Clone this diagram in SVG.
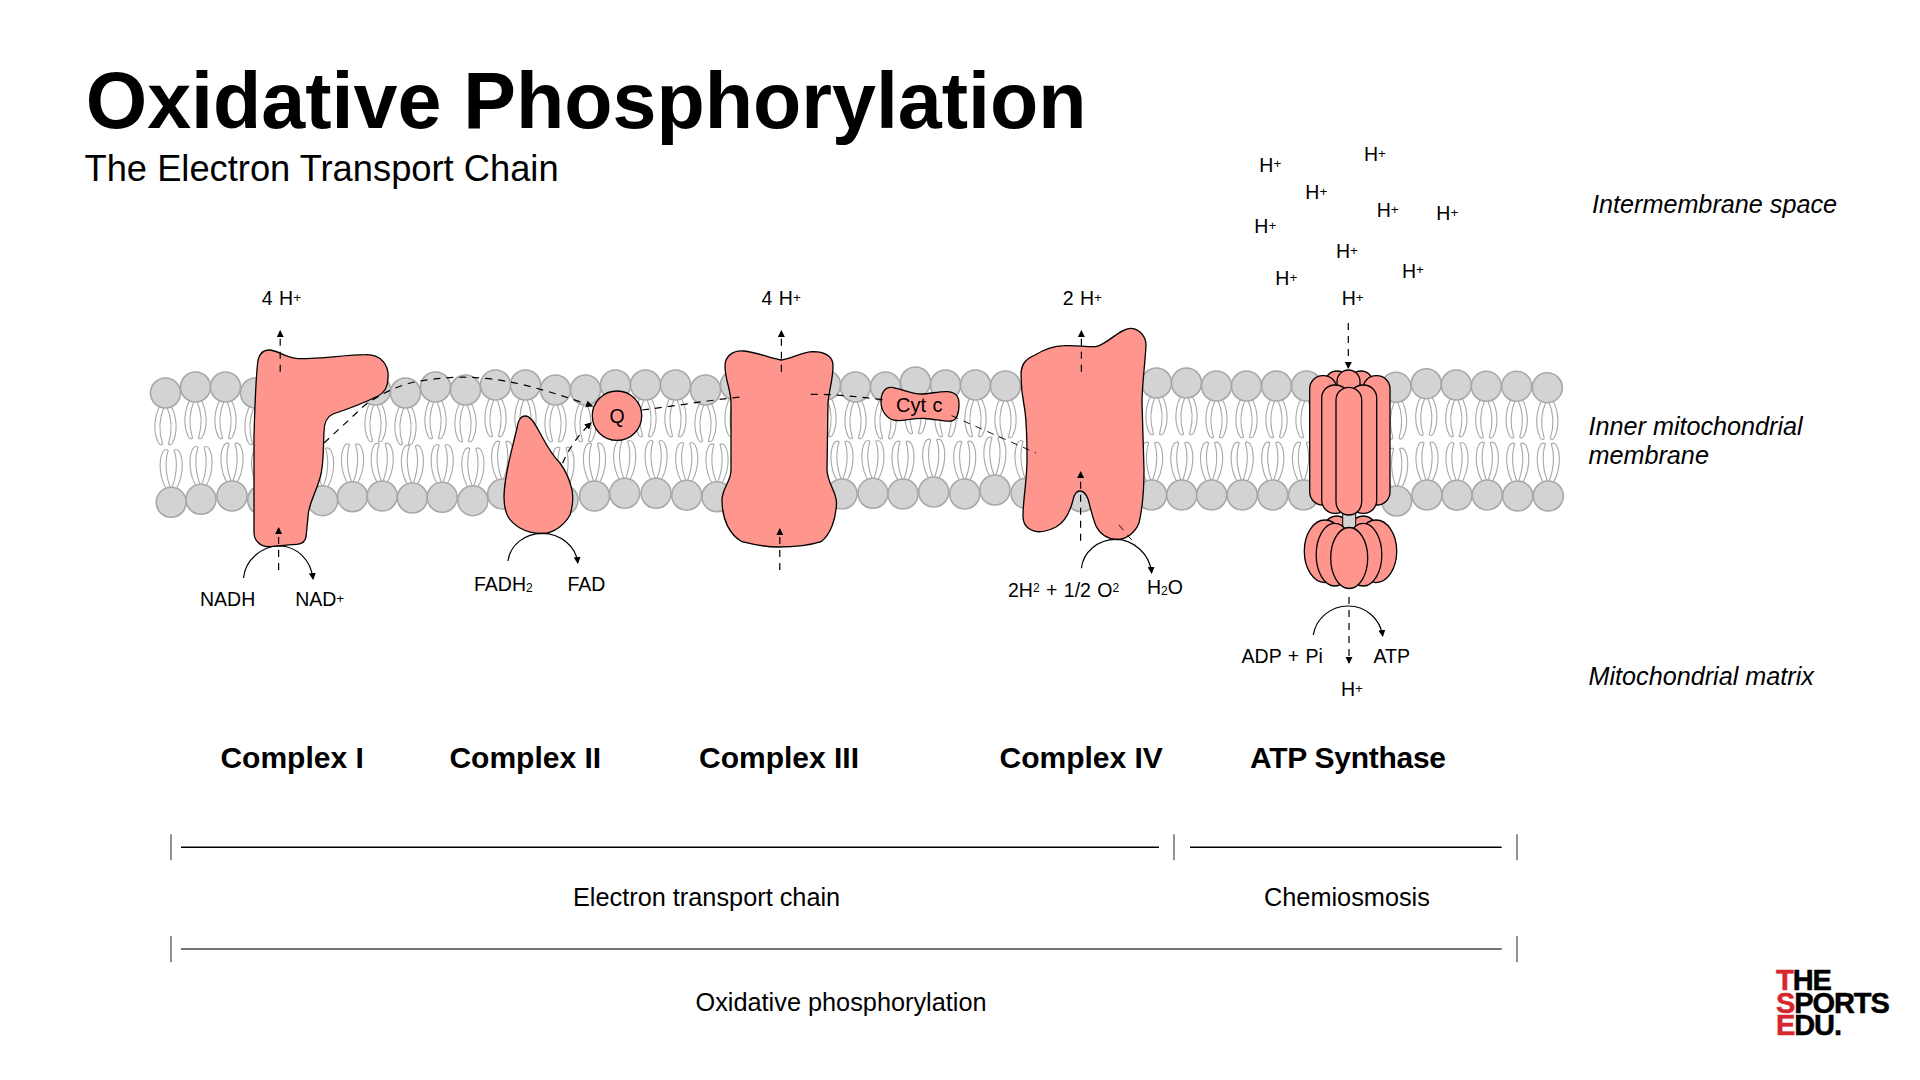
<svg xmlns="http://www.w3.org/2000/svg" width="1920" height="1080" viewBox="0 0 1920 1080">
<style>
text{font-family:"Liberation Sans",Arial,sans-serif;fill:#000}
.title{font-size:79px;font-weight:700}
.sub{font-size:36.3px}
.cx{font-size:30px;font-weight:700}
.lb{font-size:25.3px}
.it{font-size:25.2px;font-style:italic}
.s{font-size:19.5px;word-spacing:1px}
.m{font-size:12px}
.p{font-size:13.5px}
.logo{font-size:29px;font-weight:700;letter-spacing:-1.1px;stroke:#000;stroke-width:.5}
.red{fill:#d7262e;stroke:#d7262e}
.head{fill:#d3d3d3;stroke:#a8a8a8;stroke-width:1.6}
.tail{fill:#fff;stroke:#a8a8a8;stroke-width:1.1}
.pr{fill:#ff968e;stroke:#000;stroke-width:1.3}
.d{fill:none;stroke:#000;stroke-width:1.2;stroke-dasharray:7 6}
.c{fill:none;stroke:#000;stroke-width:1.2}
.r{stroke:#000;stroke-width:1.5}
.t{stroke:#777;stroke-width:1.6}
</style>
<defs>
<marker id="a" markerWidth="8" markerHeight="8" refX="6" refY="3.5" orient="auto" markerUnits="userSpaceOnUse"><path d="M0,0 L7,3.5 L0,7 Z" fill="#000"/></marker>
<g id="T">
<path class="tail" d="M-5,12 C-11,22 -13,38 -7,50 Q-5,53 -3,51 C-7,38 -6,24 -1,13 Z"/>
<path class="tail" d="M5,12 C11,22 13,38 7,50 Q5,53 3,51 C7,38 6,24 1,13 Z"/>
<circle class="head" r="15"/>
</g>
<g id="B">
<path class="tail" d="M-4,-12 C-12,-24 -13,-42 -8,-51 Q-5,-54 -3,-52 C-7,-40 -5,-24 0,-13 Z"/>
<path class="tail" d="M4,-12 C12,-24 13,-42 8,-51 Q5,-54 3,-52 C7,-40 5,-24 0,-13 Z"/>
<circle class="head" r="15"/>
</g>
</defs>
<rect width="1920" height="1080" fill="#fff"/>

<g id="membrane">
<use href="#T" x="165.5" y="393"/><use href="#T" x="195.5" y="387"/><use href="#T" x="225.5" y="387"/><use href="#T" x="255.5" y="393"/><use href="#T" x="375.5" y="390"/><use href="#T" x="405.5" y="393"/><use href="#T" x="435.5" y="387"/><use href="#T" x="465.5" y="390"/><use href="#T" x="495.5" y="385"/><use href="#T" x="525.5" y="385"/><use href="#T" x="555.5" y="390"/><use href="#T" x="585.5" y="390"/><use href="#T" x="615.5" y="385"/><use href="#T" x="645.5" y="385"/><use href="#T" x="675.5" y="385"/><use href="#T" x="705.5" y="390"/><use href="#T" x="735.5" y="385"/><use href="#T" x="825.5" y="385"/><use href="#T" x="855.5" y="387"/><use href="#T" x="885.5" y="387"/><use href="#T" x="915.5" y="382"/><use href="#T" x="945.5" y="385"/><use href="#T" x="975.5" y="385"/><use href="#T" x="1005.5" y="386"/><use href="#T" x="1156.5" y="383"/><use href="#T" x="1186.5" y="383"/><use href="#T" x="1216.5" y="386"/><use href="#T" x="1246.5" y="386"/><use href="#T" x="1276.5" y="386"/><use href="#T" x="1306.5" y="386"/><use href="#T" x="1396" y="387.3"/><use href="#T" x="1426.3" y="383.7"/><use href="#T" x="1456.3" y="385"/><use href="#T" x="1486.3" y="386.3"/><use href="#T" x="1516.7" y="386.3"/><use href="#T" x="1547.3" y="387.7"/>
<use href="#B" x="171.2" y="502.3"/><use href="#B" x="201" y="499.3"/><use href="#B" x="232" y="496"/><use href="#B" x="262.7" y="500"/><use href="#B" x="322.6" y="500.7"/><use href="#B" x="352.5" y="496.7"/><use href="#B" x="382.2" y="496"/><use href="#B" x="412.4" y="498"/><use href="#B" x="442.2" y="497.3"/><use href="#B" x="472.9" y="500.7"/><use href="#B" x="502.7" y="494"/><use href="#B" x="533" y="500"/><use href="#B" x="563" y="500"/><use href="#B" x="594.5" y="496"/><use href="#B" x="624.7" y="493.3"/><use href="#B" x="656.1" y="493.3"/><use href="#B" x="686.7" y="495.3"/><use href="#B" x="717" y="496.7"/><use href="#B" x="842" y="494"/><use href="#B" x="872.9" y="493.3"/><use href="#B" x="903" y="494"/><use href="#B" x="933.7" y="492"/><use href="#B" x="964.7" y="494"/><use href="#B" x="994.9" y="490"/><use href="#B" x="1026" y="493.3"/><use href="#B" x="1081.4" y="496.7"/><use href="#B" x="1151.6" y="495"/><use href="#B" x="1181.8" y="495"/><use href="#B" x="1211.6" y="495"/><use href="#B" x="1242.2" y="495"/><use href="#B" x="1272.8" y="495"/><use href="#B" x="1303.5" y="495"/><use href="#B" x="1396.7" y="501"/><use href="#B" x="1427" y="495"/><use href="#B" x="1457" y="495.3"/><use href="#B" x="1487.3" y="495"/><use href="#B" x="1517.7" y="496"/><use href="#B" x="1548.3" y="496"/>
</g>

<g id="complex-1"><path class="pr" d="M254,437 C255,400 256,375 258,360 C260,352 265,350 269,350 C278,350 285,358 298,358.7 C320,359 345,355 365,354.7 C382,354 389,366 388,378 C388,388 384,393 378,396 C360,405 345,410 333,414 C326,417 324,424 324,432 C323,450 324,465 320,478 C315,495 308,505 308,517 L306,537 C305,542 301,544 297,544.3 C285,545 278,546 269,546.7 C260,547 254,540 254,533 Z"/></g>
<g id="complex-2"><path class="pr" d="M525,416 C520,416 518,421 517,428 C512,450 504,475 504,497 C504,515 510,522 520,528 C527,532 535,533.5 542,533.5 C555,533 565,524 570,515 C573,505 574,495 571,486 C568,475 565,470 560,463 C550,453 545,442 540,433 C535,424 531,416 525,416 Z"/></g>
<g id="q"><circle class="pr" cx="617" cy="415.7" r="24.7"/><text class="s" x="617" y="423" text-anchor="middle">Q</text></g>
<g id="complex-3"><path class="pr" d="M725,366 C725,356 733,350 744,351 C756,352 770,358 781,360 C790,359 802,352 813,351.7 C826,352 833,356 833,366 C833,380 829,390 828,403 L827,470 C828,485 836,490 836.5,503 C836,520 830,535 821,541.7 C808,546 792,547 778,547 C765,547 755,545 742,541.7 C730,535 722,520 722,500 C722,488 731,482 731,470 L731,403 C731,390 725,380 725,366 Z"/></g>
<g id="cyt-c"><path class="pr" d="M881,402 C881,393 885,387 891,387.3 C900,388 910,394 921,394 C930,394 940,391 948,391.7 C956,393 959,396 959,404 C959,412 958,419 952,421 C945,422 935,419 925,418.5 C912,418 905,421 897,420.5 C888,420 881,412 881,402 Z"/><text class="s" x="896" y="411.5" style="font-size:20px">Cyt c</text></g>
<g id="complex-4"><path class="pr" d="M1021,375 C1021,362 1028,358 1035,355 C1045,349 1055,346 1064,345.7 C1075,345 1085,347 1096,346.7 C1108,344 1120,328 1131,328.3 C1141,329 1146,338 1146,345 C1145,365 1142,385 1142,403 L1144,470 C1144,490 1142,510 1139,523 C1135,533 1126,539.5 1117,539.5 C1107,539 1100,534 1096,526 C1092,516 1090,506 1088,499 C1086,494 1083,491 1080,491 C1076,491 1074,495 1073,500 C1070,512 1065,522 1056,527 C1048,531 1042,532 1037,531.7 C1028,530 1023,525 1023,516 C1023,500 1027,480 1027,460 C1027,440 1027,420 1024,405 C1022,395 1021,385 1021,375 Z"/></g>
<g id="atp-synthase">
<rect class="pr" x="1325" y="371" width="24" height="60" rx="12"/><rect class="pr" x="1349" y="371" width="24" height="60" rx="12"/><rect class="pr" x="1337" y="370" width="23" height="60" rx="11.5"/>
<rect class="pr" x="1309.7" y="375.7" width="27" height="129.3" rx="13"/><rect class="pr" x="1363" y="375.7" width="27" height="129.3" rx="13"/>
<rect class="pr" x="1321.7" y="385" width="27" height="128.3" rx="13"/><rect class="pr" x="1349.7" y="385" width="27" height="128.3" rx="13"/>
<ellipse class="pr" cx="1336.7" cy="540" rx="17" ry="24"/><ellipse class="pr" cx="1363.3" cy="540" rx="17" ry="24"/>
<rect x="1342.7" y="512" width="13" height="18" fill="#d3d3d3" stroke="#000" stroke-width="1"/>
<rect class="pr" x="1336" y="387.3" width="25.7" height="127.7" rx="12.8"/>
<ellipse class="pr" cx="1325" cy="551.3" rx="20.7" ry="31.3"/><ellipse class="pr" cx="1376" cy="551.3" rx="20.7" ry="31.3"/>
<ellipse class="pr" cx="1334.7" cy="554.7" rx="18.5" ry="31.3"/><ellipse class="pr" cx="1363.3" cy="554.7" rx="18.5" ry="31.3"/>
<ellipse class="pr" cx="1349.2" cy="558" rx="18.5" ry="30.5"/>
</g>

<g id="connectors">
<path class="d" d="M280.2,371.7 V331" marker-end="url(#a)"/>
<path class="d" d="M278.6,570 V528" marker-end="url(#a)"/>
<path class="d" d="M781.4,371.7 V331" marker-end="url(#a)"/>
<path class="d" d="M779.8,570 V529" marker-end="url(#a)"/>
<path class="d" d="M1081.4,371.7 V331" marker-end="url(#a)"/>
<path class="d" d="M1080.6,540.7 V472" marker-end="url(#a)"/>
<path class="d" d="M1348.3,323 V368" marker-end="url(#a)"/>
<path class="d" d="M1349,597 V663" marker-end="url(#a)"/>
<path class="d" d="M324,443 L365,405 C375,398 395,385 420,381 C450,376 480,375 520,384 C545,390 570,398 592,406" marker-end="url(#a)"/>
<path class="d" d="M562.6,463.3 C568,450 578,435 591,423" marker-end="url(#a)"/>
<path class="d" d="M642.2,410 C675,406 710,400 744,396.7"/>
<path class="d" d="M810.8,394.3 C835,394 860,397 886,400"/>
<path class="d" style="stroke-width:.9" d="M951.6,415.7 L1036,453"/>
<path class="d" style="stroke-width:.9" d="M1119,525 L1136,545"/>
<path class="c" d="M243.5,578 C245,560 262,546 279,546 C297,546 311,560 313,579" marker-end="url(#a)"/>
<path class="c" d="M508,561 C510,545 525,533.3 542.2,533.3 C560,533.3 576,546 577.8,563" marker-end="url(#a)"/>
<path class="c" d="M1081.4,568.3 C1083,552 1098,539.3 1116,539.3 C1133,539.3 1150,554 1151.6,573" marker-end="url(#a)"/>
<path class="c" d="M1313.3,635 C1316,618 1331,606 1348.3,606 C1365,606 1380,618 1382.7,636" marker-end="url(#a)"/>
</g>

<g id="labels">
<text class="title" x="85.7" y="128">Oxidative Phosphorylation</text>
<text class="sub" x="84.5" y="181">The Electron Transport Chain</text>
<text class="s" x="261.8" y="305">4 H<tspan class="p" dy="-3.5">+</tspan></text>
<text class="s" x="761.6" y="305">4 H<tspan class="p" dy="-3.5">+</tspan></text>
<text class="s" x="1062.7" y="305">2 H<tspan class="p" dy="-3.5">+</tspan></text>
<text class="s" x="1259.3" y="171.7">H<tspan class="p" dy="-3.5">+</tspan></text>
<text class="s" x="1364" y="161">H<tspan class="p" dy="-3.5">+</tspan></text>
<text class="s" x="1305.3" y="199.3">H<tspan class="p" dy="-3.5">+</tspan></text>
<text class="s" x="1376.7" y="217.3">H<tspan class="p" dy="-3.5">+</tspan></text>
<text class="s" x="1436.3" y="220">H<tspan class="p" dy="-3.5">+</tspan></text>
<text class="s" x="1254.3" y="233.3">H<tspan class="p" dy="-3.5">+</tspan></text>
<text class="s" x="1336" y="258.3">H<tspan class="p" dy="-3.5">+</tspan></text>
<text class="s" x="1402" y="277.7">H<tspan class="p" dy="-3.5">+</tspan></text>
<text class="s" x="1275.3" y="285">H<tspan class="p" dy="-3.5">+</tspan></text>
<text class="s" x="1341.7" y="305">H<tspan class="p" dy="-3.5">+</tspan></text>
<text class="s" x="1341" y="696">H<tspan class="p" dy="-3.5">+</tspan></text>
<text class="s" x="200" y="606">NADH</text>
<text class="s" x="295.2" y="606">NAD<tspan class="p" dy="-3.5">+</tspan></text>
<text class="s" x="474" y="590.7">FADH<tspan class="m" dy="1">2</tspan></text>
<text class="s" x="567.5" y="590.7">FAD</text>
<text class="s" x="1008" y="596.7">2H<tspan class="m" dy="-5">2</tspan><tspan dy="5"> + 1/2 O</tspan><tspan class="m" dy="-5">2</tspan></text>
<text class="s" x="1147" y="594.3">H<tspan class="m" dy="1">2</tspan><tspan dy="-1">O</tspan></text>
<text class="s" x="1241.6" y="662.7">ADP + Pi</text>
<text class="s" x="1373.5" y="662.7">ATP</text>
<text class="cx" x="220.4" y="768">Complex I</text>
<text class="cx" x="449.4" y="768">Complex II</text>
<text class="cx" x="699" y="768">Complex III</text>
<text class="cx" x="999.5" y="768">Complex IV</text>
<text class="cx" x="1250" y="768" textLength="196">ATP Synthase</text>
<text class="lb" x="573" y="906">Electron transport chain</text>
<text class="lb" x="1264" y="906">Chemiosmosis</text>
<text class="lb" x="695.5" y="1011">Oxidative phosphorylation</text>
<text class="it" x="1592" y="213">Intermembrane space</text>
<text class="it" x="1588.5" y="434.7">Inner mitochondrial</text>
<text class="it" x="1588.5" y="464">membrane</text>
<text class="it" x="1588.5" y="684.5">Mitochondrial matrix</text>
</g>

<g id="brackets">
<path class="t" d="M171,834.3 V860.3 M1174,834.3 V860.3 M1517,834.3 V860.3 M171,936 V962.3 M1517,936 V962.3"/>
<path class="r" d="M181,847.3 H1159 M1190,847.3 H1501.7"/>
<path class="r" style="stroke:#444" d="M181,949 H1501.7"/>
</g>

<g id="logo">
<text class="logo"><tspan x="1776" y="990" class="red">T</tspan><tspan>HE</tspan><tspan x="1776" y="1012.7" class="red">S</tspan><tspan>PORTS</tspan><tspan x="1776" y="1035" class="red">E</tspan><tspan>DU.</tspan></text>
</g>
</svg>
